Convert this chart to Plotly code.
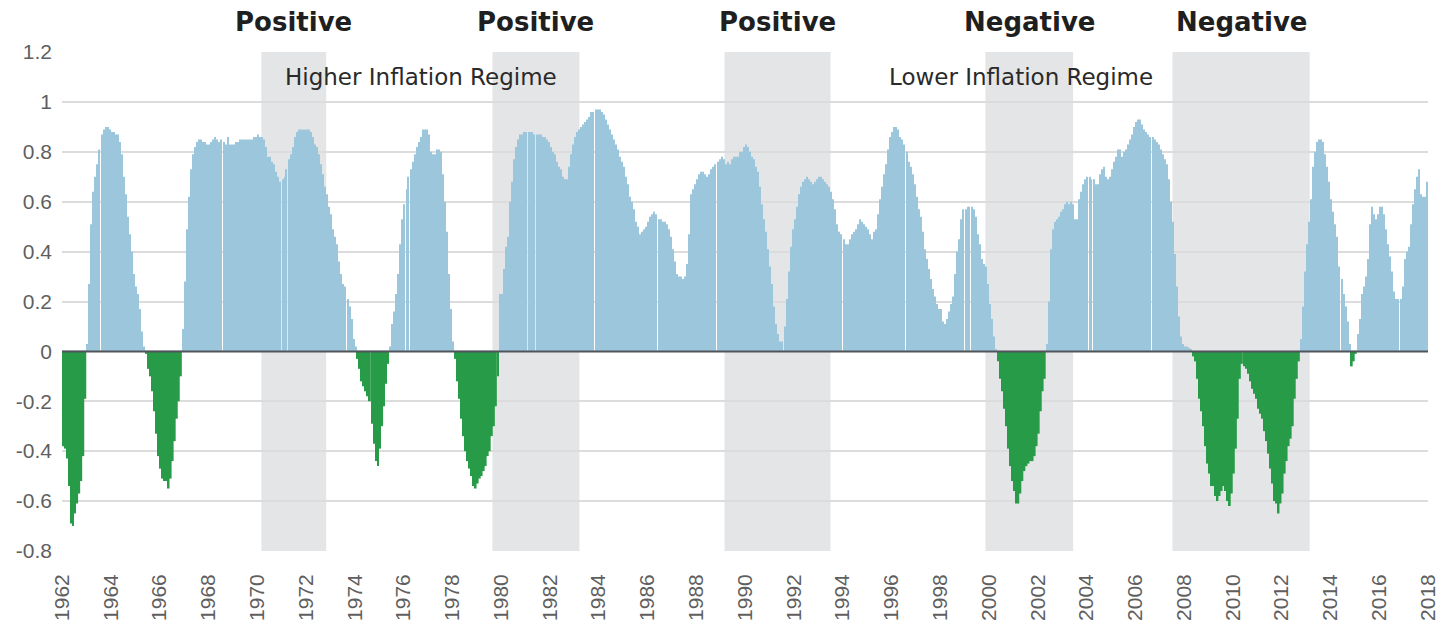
import numpy as np
import pandas as pd
import plotly.graph_objects as go

# Monthly correlation values, Jan 1962 .. Dec 2017, stored as consecutive runs
run_1962_01 = [-0.38, -0.39, -0.43, -0.54, -0.69, -0.70, -0.65, -0.61, -0.57, -0.52, -0.42, -0.19]
run_1963_01 = [0.03, 0.27, 0.51, 0.64, 0.70, 0.75, 0.81, 0.87, 0.89, 0.90, 0.90, 0.89, 0.88, 0.88, 0.87,
               0.87, 0.84, 0.79, 0.70, 0.63, 0.54, 0.47, 0.40, 0.31, 0.26, 0.23, 0.17, 0.08, 0.02]
run_1965_06 = [-0.01, -0.07, -0.10, -0.16, -0.24, -0.33, -0.42, -0.47, -0.51, -0.52, -0.52, -0.55,
               -0.51, -0.44, -0.36, -0.27, -0.20, -0.10]
run_1966_12 = [0.09, 0.28, 0.49, 0.62, 0.73, 0.79, 0.82, 0.84, 0.85, 0.85,
               0.84, 0.84, 0.83, 0.83, 0.84, 0.85, 0.86, 0.85, 0.84, 0.85,
               0.84, 0.83, 0.86, 0.83, 0.83, 0.83, 0.84, 0.84, 0.85, 0.85,
               0.85, 0.85, 0.85, 0.85, 0.85, 0.86, 0.86, 0.87, 0.86,
               0.86, 0.85, 0.82, 0.78, 0.78, 0.76, 0.75, 0.72, 0.70, 0.68,
               0.69, 0.70, 0.73, 0.77, 0.79, 0.82, 0.86, 0.88, 0.89, 0.89,
               0.89, 0.89, 0.89, 0.89, 0.88, 0.86, 0.83, 0.82, 0.79, 0.75,
               0.71, 0.66, 0.63, 0.58, 0.55, 0.49, 0.46, 0.43, 0.36, 0.31,
               0.27, 0.26, 0.21, 0.18, 0.13, 0.05, 0.02]
run_1974_02 = [-0.03, -0.07, -0.12, -0.14, -0.16, -0.18, -0.20, -0.29, -0.37, -0.44, -0.46, -0.39,
               -0.30, -0.22, -0.13, -0.05]
run_1975_06 = [0.02, 0.11, 0.16, 0.23, 0.31, 0.43, 0.53, 0.59, 0.65, 0.70, 0.73, 0.76, 0.79, 0.82,
               0.84, 0.86, 0.89, 0.89, 0.89, 0.87, 0.80, 0.79, 0.79, 0.81, 0.81, 0.80, 0.71, 0.60,
               0.48, 0.31, 0.17, 0.04]
run_1978_02 = [-0.03, -0.12, -0.19, -0.27, -0.34, -0.40, -0.44, -0.47, -0.50, -0.54, -0.55, -0.53,
               -0.51, -0.50, -0.48, -0.46, -0.42, -0.40, -0.34, -0.30, -0.22, -0.10]
run_1979_12 = [0.23, 0.23, 0.33, 0.42, 0.46, 0.60, 0.68, 0.77, 0.82, 0.85,
               0.87, 0.87, 0.88, 0.88, 0.88, 0.88, 0.88, 0.87, 0.87,
               0.87, 0.87, 0.86, 0.86, 0.85, 0.84, 0.82, 0.80, 0.79, 0.76,
               0.74, 0.73, 0.70, 0.69, 0.69, 0.74, 0.79, 0.83, 0.86, 0.88,
               0.89, 0.90, 0.91, 0.92, 0.93, 0.94, 0.96, 0.96, 0.97, 0.97,
               0.97, 0.96, 0.95, 0.93, 0.91, 0.89, 0.87, 0.85, 0.83,
               0.81, 0.78, 0.76, 0.74, 0.70, 0.67, 0.62, 0.60, 0.57, 0.52,
               0.50, 0.47, 0.48, 0.49, 0.50, 0.52, 0.54, 0.55, 0.56, 0.55,
               0.53, 0.53, 0.52, 0.52, 0.51, 0.49, 0.46, 0.41, 0.36, 0.31,
               0.30, 0.30, 0.29, 0.30, 0.35, 0.47, 0.63, 0.65, 0.67, 0.69,
               0.71, 0.72, 0.72, 0.71, 0.70, 0.71, 0.73, 0.74, 0.75, 0.76,
               0.77, 0.78, 0.77, 0.75, 0.76, 0.75, 0.77, 0.78, 0.78, 0.78,
               0.80, 0.80, 0.82, 0.83, 0.82, 0.80, 0.78, 0.77, 0.74, 0.72,
               0.66,
               0.59, 0.53, 0.48, 0.41, 0.34, 0.27, 0.18, 0.11, 0.07, 0.04,
               0.04, 0.10, 0.21, 0.32, 0.42, 0.49, 0.53, 0.58, 0.63, 0.66,
               0.68, 0.69, 0.70, 0.69, 0.68, 0.67, 0.68, 0.69, 0.70,
               0.70, 0.69, 0.68, 0.67, 0.66, 0.64, 0.61, 0.57, 0.51, 0.48,
               0.47, 0.45, 0.43, 0.43, 0.45, 0.47, 0.48, 0.49, 0.51, 0.53,
               0.52, 0.51, 0.50, 0.49, 0.47, 0.45, 0.48, 0.49, 0.55, 0.61,
               0.66, 0.71, 0.75, 0.81, 0.86, 0.88, 0.90, 0.90, 0.89, 0.86,
               0.85, 0.83, 0.80, 0.76, 0.74, 0.71, 0.67, 0.62, 0.57, 0.54,
               0.48, 0.41, 0.37, 0.33, 0.29, 0.25, 0.22, 0.19, 0.17, 0.17,
               0.12, 0.11, 0.13, 0.16, 0.19, 0.22, 0.31, 0.40, 0.45, 0.53,
               0.57, 0.57, 0.58, 0.58, 0.58, 0.57, 0.54, 0.47, 0.43,
               0.37, 0.35, 0.34, 0.27, 0.19, 0.13, 0.06, 0.01]
run_2000_05 = [-0.04, -0.11, -0.16, -0.23, -0.30, -0.39, -0.46, -0.52, -0.56, -0.61, -0.61, -0.57,
               -0.52, -0.48, -0.46, -0.45, -0.44, -0.44, -0.42, -0.38, -0.33, -0.24, -0.16, -0.11]
run_2002_05 = [0.03, 0.20, 0.41, 0.49, 0.52, 0.53, 0.54, 0.56, 0.57, 0.59,
               0.60, 0.59, 0.60, 0.59, 0.53, 0.53, 0.61, 0.64, 0.67, 0.69,
               0.70, 0.70, 0.69, 0.69, 0.67, 0.67, 0.71, 0.73, 0.74, 0.70,
               0.69, 0.70, 0.73, 0.76, 0.78, 0.81, 0.81, 0.78, 0.80, 0.81,
               0.83, 0.85, 0.87, 0.90, 0.92, 0.93, 0.93, 0.91, 0.89,
               0.88, 0.87, 0.86, 0.86, 0.85, 0.84, 0.83, 0.81,
               0.79, 0.77, 0.75, 0.69, 0.60, 0.52, 0.39, 0.26, 0.14, 0.06, 0.03, 0.02, 0.02,
               0.015, 0.01]
run_2008_05 = [-0.02, -0.04, -0.11, -0.19, -0.24, -0.30, -0.38, -0.45, -0.49, -0.54,
               -0.54, -0.58, -0.60, -0.58, -0.56, -0.54, -0.56, -0.60, -0.62, -0.57,
               -0.49, -0.39, -0.27, -0.11, -0.05, -0.06, -0.07, -0.09, -0.12, -0.15,
               -0.17, -0.19, -0.23, -0.25, -0.27, -0.32, -0.36, -0.41, -0.47, -0.53,
               -0.60, -0.61, -0.65, -0.61, -0.57, -0.49, -0.44, -0.38, -0.35, -0.30,
               -0.19, -0.11, -0.04]
run_2012_10 = [0.05, 0.18, 0.32, 0.43, 0.52, 0.61, 0.74, 0.80, 0.84, 0.85, 0.85, 0.84, 0.79,
               0.74, 0.68, 0.61, 0.56, 0.51, 0.46, 0.34, 0.29, 0.23, 0.18, 0.12, 0.03]
run_2014_11 = [-0.06, -0.04, -0.01]
run_2015_02 = [0.07, 0.13, 0.23, 0.26, 0.30, 0.37, 0.51, 0.58, 0.55, 0.53,
               0.55, 0.58, 0.58, 0.55, 0.49, 0.43, 0.38, 0.32, 0.24, 0.21,
               0.21, 0.21, 0.26, 0.37, 0.40, 0.42, 0.51, 0.59, 0.65, 0.70,
               0.73, 0.63, 0.62, 0.62, 0.68]

runs = [run_1962_01, run_1963_01, run_1965_06, run_1966_12, run_1974_02, run_1975_06,
        run_1978_02, run_1979_12, run_2000_05, run_2002_05, run_2008_05, run_2012_10,
        run_2014_11, run_2015_02]

# Highlighted periods (start, end, label)
period_starts = ["1970-03-06", "1979-08-25", "1989-03-01", "1999-11-10", "2007-07-12"]
period_ends = ["1972-10-31", "1983-03-20", "1993-07-05", "2003-06-15", "2013-02-24"]
period_labels = ["Positive", "Positive", "Positive", "Negative", "Negative"]

regime_labels = ["Higher Inflation Regime", "Lower Inflation Regime"]
regime_x = ["1976-09-25", "2001-05-01"]

y_ticks = [1.2, 1, 0.8, 0.6, 0.4, 0.2, 0, -0.2, -0.4, -0.6, -0.8]
y_tick_text = ["1.2", "1", "0.8", "0.6", "0.4", "0.2", "0", "-0.2", "-0.4", "-0.6", "-0.8"]

values = np.array([v for r in runs for v in r], dtype=float)
dates = pd.date_range("1962-01-01", periods=len(values), freq="MS") + pd.Timedelta(days=15)

pos = np.where(values >= 0, values, np.nan)
neg = np.where(values < 0, values, np.nan)

month_ms = 30.44 * 24 * 3600 * 1000

fig = go.Figure()
fig.add_trace(go.Bar(x=dates, y=pos, width=0.5 * month_ms,
                     marker=dict(color="#9cc6dc", line=dict(width=0)), showlegend=False))
fig.add_trace(go.Bar(x=dates, y=neg, width=0.92 * month_ms,
                     marker=dict(color="#279b47", line=dict(width=0)), showlegend=False))

shapes = []
for s, e in zip(period_starts, period_ends):
    shapes.append(dict(type="rect", xref="x", yref="y", x0=s, x1=e, y0=-0.8, y1=1.2,
                       fillcolor="#e4e5e7", line=dict(width=0), layer="below"))
shapes.append(dict(type="line", xref="paper", yref="y", x0=0, x1=1, y0=0, y1=0,
                   line=dict(color="#50555b", width=2), layer="above"))

annotations = []
for s, e, lab in zip(period_starts, period_ends, period_labels):
    mid = pd.Timestamp(s) + (pd.Timestamp(e) - pd.Timestamp(s)) / 2
    annotations.append(dict(x=mid.strftime("%Y-%m-%d"), y=1.06, xref="x", yref="paper",
                            text=f"<b>{lab}</b>",
                            showarrow=False, xanchor="center", yanchor="middle",
                            font=dict(family="DejaVu Sans", size=26, color="#1f1f1f")))
for x, lab in zip(regime_x, regime_labels):
    annotations.append(dict(x=x, y=1.1, xref="x", yref="y", text=lab, showarrow=False,
                            xanchor="center", yanchor="middle",
                            font=dict(family="DejaVu Sans", size=23, color="#2a2a2a")))

fig.update_layout(
    width=1444, height=626,
    margin=dict(l=62, r=16, t=52, b=75),
    paper_bgcolor="white", plot_bgcolor="white",
    barmode="overlay",
    shapes=shapes, annotations=annotations,
    xaxis=dict(type="date", range=["1962-01-01", "2018-01-01"], tick0="1962-01-01", dtick="M24",
               tickformat="%Y", tickangle=-90, showgrid=False, zeroline=False, showline=False,
               ticks="", ticklabelstandoff=18, automargin=False,
               tickfont=dict(family="Liberation Sans", size=21, color="#5f5f5f")),
    yaxis=dict(range=[-0.8005, 1.2005], tickvals=y_ticks, ticktext=y_tick_text,
               showgrid=True, gridcolor="#dcdcdc", gridwidth=1.5, zeroline=False,
               showline=False, ticks="", ticklabelstandoff=9, automargin=False,
               tickfont=dict(family="Liberation Sans", size=21, color="#5f5f5f")),
)

fig.write_html("out.html", config={"displayModeBar": False},
               post_script="document.body.style.margin='0';document.body.style.overflow='hidden';")
